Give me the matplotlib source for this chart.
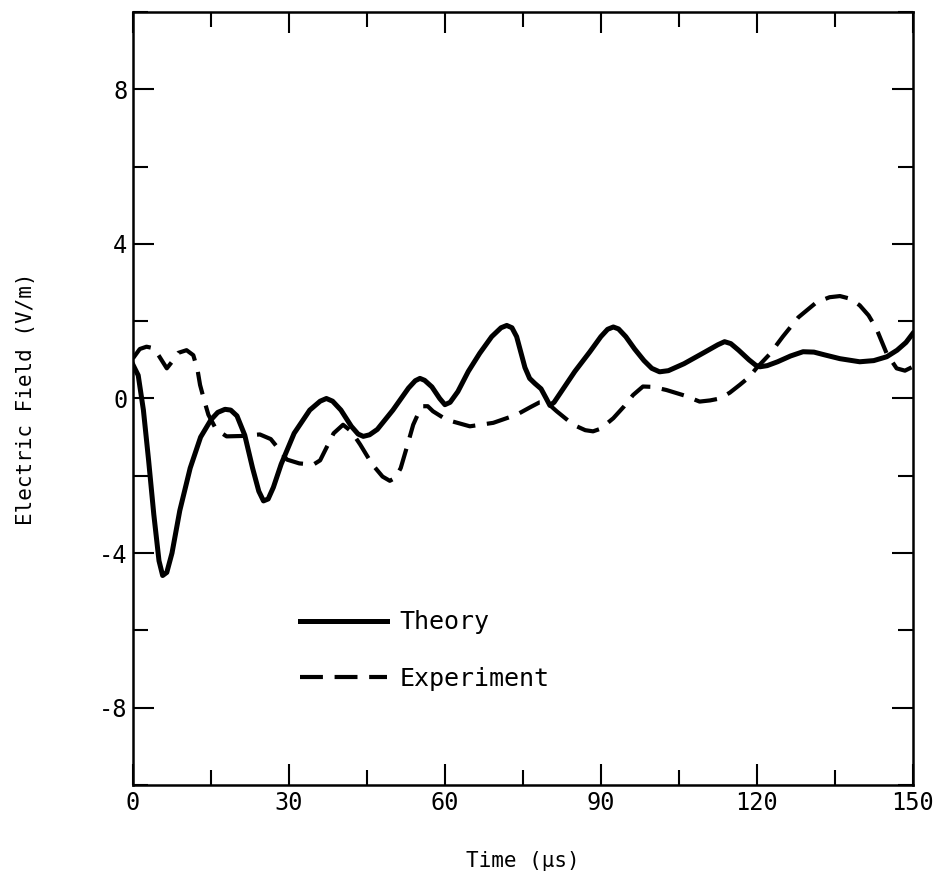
import numpy as np
import matplotlib
matplotlib.use("Agg")
import matplotlib.pyplot as plt
from matplotlib.ticker import MultipleLocator

plt.rcParams['font.family'] = ['DejaVu Sans Mono', 'DejaVu Sans']
plt.rcParams['axes.unicode_minus'] = False

# theory curve
t_theory = [0, 1, 2, 3, 4, 5, 5.7, 6.5, 7.5, 9, 11, 13, 15, 16.3, 17.7, 18.8, 20,
            21.5, 23, 24.2, 25.1, 26, 27, 28.5, 31, 34, 36, 37.2, 38.4, 40, 42,
            43.3, 44.3, 45.5, 47, 50, 53, 54.3, 55.2, 56.1, 57.5, 59, 60, 61, 62.5,
            64.5, 66.7, 69, 70.8, 71.9, 72.9, 73.8, 74.6, 75.4, 76.3, 77.3, 78.5,
            79.5, 80.2, 81, 82.5, 85, 87.9, 90, 91.3, 92.4, 93.4, 94.8, 96.5, 98.3,
            99.8, 101.3, 103, 106, 110, 112.5, 113.8, 115, 116.5, 118.5, 119.8,
            120.6, 122, 124, 126.5, 128.9, 131, 133, 136, 139.8, 142.5, 145, 147,
            148.7, 150]
e_theory = [0.87, 0.6, -0.3, -1.6, -3.0, -4.2, -4.58, -4.5, -4.0, -2.9, -1.8, -1.0,
            -0.55, -0.36, -0.28, -0.3, -0.45, -0.95, -1.8, -2.4, -2.65, -2.6, -2.3,
            -1.7, -0.9, -0.3, -0.07, 0.0, -0.07, -0.3, -0.72, -0.92, -0.98, -0.94,
            -0.8, -0.3, 0.27, 0.46, 0.52, 0.47, 0.3, 0.0, -0.16, -0.1, 0.18, 0.7, 1.17,
            1.6, 1.83, 1.89, 1.83, 1.6, 1.2, 0.8, 0.52, 0.39, 0.25, 0.0, -0.18, -0.1,
            0.2, 0.7, 1.21, 1.6, 1.79, 1.85, 1.8, 1.6, 1.28, 0.98, 0.78, 0.69, 0.72,
            0.9, 1.2, 1.39, 1.47, 1.42, 1.25, 1.0, 0.86, 0.82, 0.85, 0.95, 1.1, 1.21,
            1.2, 1.13, 1.03, 0.95, 0.98, 1.08, 1.25, 1.45, 1.68]

# experiment curve
t_exp = [0, 1.3, 2.6, 4, 5, 6.5, 7.5, 8.7, 10.3, 11.6, 12.4, 12.9, 13.7, 14.5, 16,
         18, 21, 24.4, 26.5, 28, 29.6, 32, 34.7, 36, 37.3, 38.6, 40.4, 42, 43.7, 46,
         48, 49.4, 50.5, 51.5, 52.7, 53.9, 55, 55.8, 56.7, 57.7, 60.3, 64.8, 69.3,
         73.8, 76.5, 78.2, 79.5, 81.5, 84.7, 87, 88.5, 90, 92.4, 94.5, 96.2, 98.1,
         100, 102.6, 106, 109, 111, 112.9, 114.8, 116.7, 118.5, 119.9, 122.5, 125,
         128, 131.5, 134, 136, 138, 139.8, 141.5, 143, 145, 146.9, 148.5, 150]
e_exp = [1.04, 1.28, 1.34, 1.3, 1.1, 0.78, 0.95, 1.18, 1.25, 1.12, 0.75, 0.35, -0.05,
         -0.42, -0.8, -0.98, -0.97, -0.93, -1.05, -1.3, -1.58, -1.68, -1.71, -1.6,
         -1.25, -0.9, -0.68, -0.85, -1.19, -1.7, -2.02, -2.13, -2.05, -1.8, -1.25,
         -0.68, -0.35, -0.2, -0.2, -0.33, -0.55, -0.72, -0.63, -0.42, -0.22, -0.1,
         -0.09, -0.33, -0.68, -0.82, -0.85, -0.78, -0.51, -0.2, 0.09, 0.31, 0.3, 0.22,
         0.08, -0.08, -0.05, 0.0, 0.15, 0.35, 0.55, 0.78, 1.15, 1.6, 2.1, 2.49, 2.62,
         2.65, 2.58, 2.41, 2.15, 1.81, 1.16, 0.78, 0.72, 0.82]

fig = plt.figure(figsize=(9.4, 8.88), dpi=100)
ax = fig.add_axes([0.1415, 0.116, 0.8295, 0.8705])

ax.plot(t_theory, e_theory, color='black', linewidth=3.6, solid_joinstyle='round',
        label='Theory')
ax.plot(t_exp, e_exp, color='black', linewidth=3.0, dashes=(5.5, 2.8),
        dash_joinstyle='round', label='Experiment')

ax.set_xlim(0, 150)
ax.set_ylim(-10, 10)
ax.xaxis.set_major_locator(MultipleLocator(30))
ax.xaxis.set_minor_locator(MultipleLocator(15))
ax.yaxis.set_major_locator(MultipleLocator(4))
ax.yaxis.set_minor_locator(MultipleLocator(2))
ax.set_yticks([-8, -4, 0, 4, 8])
ax.tick_params(which='both', direction='in', top=True, right=True, width=1.5,
               labelsize=17, pad=4)
ax.tick_params(which='major', length=15)
ax.tick_params(which='minor', length=11)
for s in ax.spines.values():
    s.set_linewidth(1.8)

ax.set_xlabel(u"Time (\u03bcs)", fontsize=15, labelpad=26)
ax.set_ylabel("Electric Field (V/m)", fontsize=15, labelpad=45)

ax.legend(loc='upper left', bbox_to_anchor=(0.185, 0.255), frameon=False, fontsize=18,
          handlelength=3.5, handletextpad=0.5, labelspacing=1.3)

fig.savefig("out.png", dpi=100)
